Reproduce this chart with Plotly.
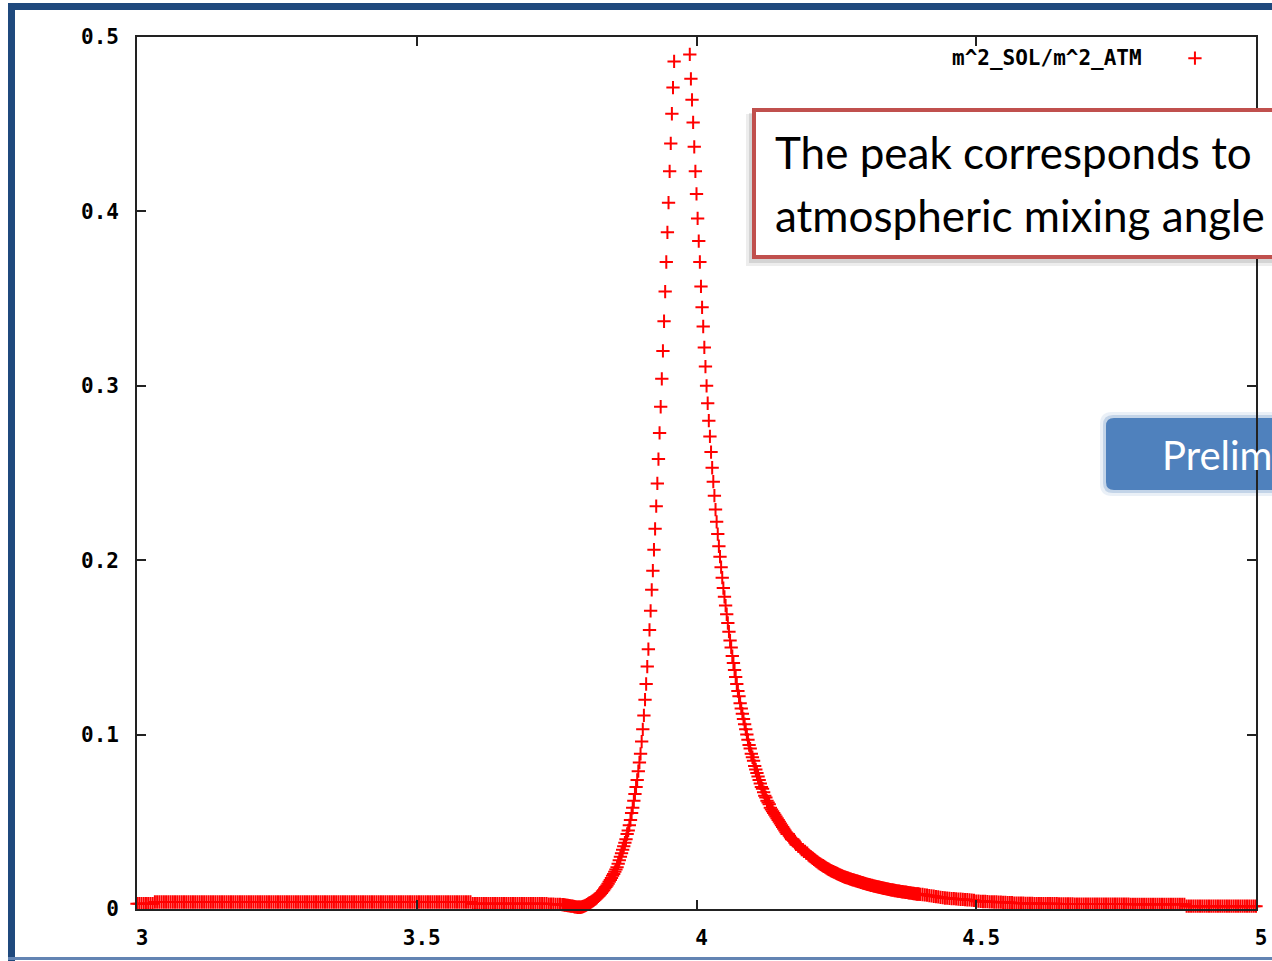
import plotly.graph_objects as go

# ---------------- data ----------------
# x grid: left tail 3.000..3.756 step 0.004, peak region 3.760..4.400 step 0.002,
# right tail 4.404..5.000 step 0.004
LEFT_TAIL_START, LEFT_TAIL_STEP = 3.000, 0.004
PEAK_START, PEAK_STEP = 3.760, 0.002
RIGHT_TAIL_START, RIGHT_TAIL_STEP = 4.404, 0.004

LEFT_TAIL_Y = [
    0.003, 0.003, 0.003, 0.003, 0.003, 0.003, 0.003, 0.003,
    0.004, 0.004, 0.004, 0.004, 0.004, 0.004, 0.004, 0.004, 0.004, 0.004,
    0.004, 0.004, 0.004, 0.004, 0.004, 0.004, 0.004, 0.004, 0.004, 0.004,
    0.004, 0.004, 0.004, 0.004, 0.004, 0.004, 0.004, 0.004, 0.004, 0.004,
    0.004, 0.004, 0.004, 0.004, 0.004, 0.004, 0.004, 0.004, 0.004, 0.004,
    0.004, 0.004, 0.004, 0.004, 0.004, 0.004, 0.004, 0.004, 0.004, 0.004,
    0.004, 0.004, 0.004, 0.004, 0.004, 0.004, 0.004, 0.004, 0.004, 0.004,
    0.004, 0.004, 0.004, 0.004, 0.004, 0.004, 0.004, 0.004, 0.004, 0.004,
    0.004, 0.004, 0.004, 0.004, 0.004, 0.004, 0.004, 0.004, 0.004, 0.004,
    0.004, 0.004, 0.004, 0.004, 0.004, 0.004, 0.004, 0.004, 0.004, 0.004,
    0.004, 0.004, 0.004, 0.004, 0.004, 0.004, 0.004, 0.004, 0.004, 0.004,
    0.004, 0.004, 0.004, 0.004, 0.004, 0.004, 0.004, 0.004, 0.004, 0.004,
    0.004, 0.004, 0.004, 0.004, 0.004, 0.004, 0.004, 0.004, 0.004, 0.004,
    0.004, 0.004, 0.004, 0.004, 0.004, 0.004, 0.004, 0.004, 0.004, 0.004,
    0.004, 0.004, 0.004, 0.004, 0.004, 0.004, 0.004, 0.004, 0.004, 0.004,
    0.004, 0.004,
    0.003, 0.003, 0.003, 0.003, 0.003, 0.003, 0.003, 0.003, 0.003, 0.003,
    0.003, 0.003, 0.003, 0.003, 0.003, 0.003, 0.003, 0.003, 0.003, 0.003,
    0.003, 0.003, 0.003, 0.003, 0.003, 0.003,
    0.003, 0.003, 0.003, 0.003, 0.003, 0.003, 0.003, 0.003,
    0.0028, 0.0028, 0.0028, 0.0026, 0.0026, 0.0026,
]

PEAK_Y = [
    0.0025, 0.0025, 0.0023, 0.0022, 0.0021, 0.002, 0.0019, 0.0018, 0.0017, 0.0016,
    0.0015, 0.0013, 0.0012, 0.0011, 0.001, 0.001, 0.001, 0.0011, 0.0013, 0.0015,
    0.0018, 0.0021, 0.0025, 0.0029, 0.0033, 0.0037, 0.0041, 0.0045, 0.005, 0.0055,
    0.006, 0.0066, 0.0072, 0.0078, 0.0085, 0.0092, 0.010, 0.0108, 0.0117, 0.0126,
    0.0135, 0.0145, 0.0156, 0.0167, 0.0178, 0.019, 0.020, 0.0213, 0.0226, 0.024,
    0.026, 0.028, 0.030, 0.032, 0.034, 0.036, 0.038, 0.040, 0.043, 0.045,
    0.048, 0.051, 0.055, 0.058, 0.062, 0.066, 0.070, 0.074, 0.079, 0.084,
    0.089, 0.096, 0.103, 0.111, 0.120, 0.129, 0.139, 0.149, 0.160, 0.171,
    0.183, 0.194, 0.206, 0.218, 0.231, 0.244, 0.258, 0.273, 0.288, 0.304,
    0.320, 0.337, 0.354, 0.371, 0.388, 0.405, 0.423, 0.439, 0.456, 0.471,
    0.486, 0.51, 0.53, 0.55, 0.57, 0.58, 0.59, 0.59, 0.58, 0.57,
    0.56, 0.54, 0.525, 0.51, 0.490, 0.476, 0.464, 0.451, 0.437, 0.423,
    0.410, 0.396, 0.383, 0.371, 0.357, 0.345, 0.334, 0.322, 0.311, 0.300,
    0.290, 0.280, 0.271, 0.262, 0.253, 0.245, 0.237, 0.229, 0.222, 0.215,
    0.208, 0.202, 0.196, 0.190, 0.184, 0.179, 0.174, 0.169, 0.164, 0.159,
    0.154, 0.150, 0.145, 0.141, 0.137, 0.133, 0.129, 0.125, 0.122, 0.118,
    0.115, 0.112, 0.109, 0.106, 0.103, 0.100, 0.097, 0.094, 0.092, 0.089,
    0.087, 0.085, 0.082, 0.080, 0.078, 0.076, 0.074, 0.072, 0.070, 0.069,
    0.067, 0.065, 0.064, 0.062, 0.061, 0.060, 0.058, 0.057, 0.056, 0.055,
    0.054, 0.053, 0.052, 0.051, 0.050, 0.049, 0.048, 0.047, 0.046, 0.045,
    0.044, 0.043, 0.043, 0.042, 0.041, 0.040, 0.040, 0.039, 0.038, 0.037,
    0.037, 0.036, 0.036, 0.035, 0.034, 0.034, 0.033, 0.033, 0.032, 0.032,
    0.031, 0.0305, 0.030, 0.0295, 0.029, 0.0285, 0.028, 0.0275, 0.027, 0.0265,
    0.026, 0.0256, 0.0252, 0.0248, 0.0244, 0.024, 0.0236, 0.0232, 0.0228, 0.0224,
    0.022, 0.0217, 0.0214, 0.0211, 0.0208, 0.0205, 0.0202, 0.0199, 0.0196, 0.0193,
    0.019, 0.0187, 0.0184, 0.0182, 0.018, 0.0178, 0.0176, 0.0173, 0.0171, 0.0169,
    0.0167, 0.0165, 0.0163, 0.0161, 0.0159, 0.0157, 0.0155, 0.0153, 0.0151, 0.0149,
    0.0147, 0.0145, 0.0143, 0.0141, 0.014, 0.0138, 0.0136, 0.0135, 0.0133, 0.0131,
    0.013, 0.0128, 0.0127, 0.0125, 0.0124, 0.0122, 0.0121, 0.0119, 0.0118, 0.0117,
    0.0115, 0.0114, 0.0113, 0.0111, 0.011, 0.0109, 0.0108, 0.0106, 0.0105, 0.0104,
    0.0103, 0.0102, 0.0101, 0.01, 0.0099, 0.0098, 0.0097, 0.0096, 0.0095, 0.0094,
    0.0093, 0.0092, 0.0091, 0.009, 0.0089, 0.0088, 0.0087, 0.0086, 0.0086, 0.0085,
    0.0084,
]

RIGHT_TAIL_Y = [
    0.0083, 0.0081, 0.0079, 0.0077, 0.0075, 0.0073, 0.0071, 0.0069, 0.0067, 0.0065,
    0.0063, 0.0062, 0.0061, 0.006, 0.0059, 0.0058, 0.0057, 0.0056, 0.0055, 0.0054,
    0.0053, 0.0052, 0.0051, 0.005,
    0.0045, 0.0045, 0.0044, 0.0043, 0.0043, 0.0042, 0.0041, 0.0041, 0.004, 0.004,
    0.0039, 0.0039, 0.0038, 0.0038, 0.0037, 0.0037, 0.0036,
    0.0034, 0.0034, 0.0033, 0.0033, 0.0033, 0.0032, 0.0032, 0.0032, 0.0032, 0.0031,
    0.0031, 0.0031, 0.0031, 0.003, 0.003, 0.003, 0.003, 0.003, 0.003, 0.003,
    0.0029, 0.0029, 0.0029, 0.0029, 0.0029, 0.0029, 0.0029,
    0.0028, 0.0028, 0.0028, 0.0028, 0.0028, 0.0028, 0.0028, 0.0028, 0.0028, 0.0028,
    0.0028, 0.0028, 0.0028, 0.0028, 0.0028, 0.0028, 0.0028, 0.0028, 0.0028, 0.0028,
    0.0028, 0.0028, 0.0028, 0.0028, 0.0028,
    0.0027, 0.0027, 0.0027, 0.0027, 0.0027, 0.0027, 0.0027, 0.0027, 0.0027, 0.0027,
    0.0027, 0.0027, 0.0027, 0.0027, 0.0027, 0.0027, 0.0027, 0.0027, 0.0027, 0.0027,
    0.0027, 0.0027, 0.0027, 0.0027, 0.0027,
    0.0016, 0.0016, 0.0016, 0.0016, 0.0016, 0.0016, 0.0016, 0.0016, 0.0016, 0.0016,
    0.0016, 0.0016, 0.0016, 0.0016, 0.0016, 0.0016, 0.0016, 0.0016, 0.0016, 0.0016,
    0.0016, 0.0016, 0.0016, 0.0016, 0.0016, 0.0016, 0.0016, 0.0016, 0.0016, 0.0016,
    0.0016, 0.0016,
]

X_TICKS = [3, 3.5, 4, 4.5, 5]
Y_TICKS = [0, 0.1, 0.2, 0.3, 0.4, 0.5]
SERIES_NAME = "m^2_SOL/m^2_ATM"
NOTE_LINES = ["The peak corresponds to", "atmospheric mixing angle"]
BADGE_TEXT = "Prelim"


def grid(start, step, n):
    return [round(start + step * i, 3) for i in range(n)]


x = (grid(LEFT_TAIL_START, LEFT_TAIL_STEP, len(LEFT_TAIL_Y))
     + grid(PEAK_START, PEAK_STEP, len(PEAK_Y))
     + grid(RIGHT_TAIL_START, RIGHT_TAIL_STEP, len(RIGHT_TAIL_Y)))
y = LEFT_TAIL_Y + PEAK_Y + RIGHT_TAIL_Y

# ---------------- layout geometry ----------------
W, H = 1272, 961
ML, MR, MT, MB = 137, 16, 37, 52
PW, PH = W - ML - MR, H - MT - MB


def px(v):
    return (v - ML) / PW


def py(v):
    return (H - MB - v) / PH


def rect(x0, y0, x1, y1, fill, line_color=None, line_width=0, layer="above"):
    return dict(type="rect", xref="paper", yref="paper",
                x0=px(x0), x1=px(x1), y0=py(y0), y1=py(y1),
                fillcolor=fill, layer=layer,
                line=dict(color=line_color or fill, width=line_width))


def rounded(x0, y0, x1, y1, r, fill, layer="below"):
    rx, ry = r / PW, r / PH
    X0, X1, Y0, Y1 = px(x0), px(x1), py(y1), py(y0)  # Y0 bottom, Y1 top
    path = (f"M{X0+rx},{Y0} L{X1},{Y0} L{X1},{Y1} L{X0+rx},{Y1} "
            f"Q{X0},{Y1} {X0},{Y1-ry} L{X0},{Y0+ry} Q{X0},{Y0} {X0+rx},{Y0} Z")
    return dict(type="path", xref="paper", yref="paper", path=path,
                fillcolor=fill, layer=layer, line=dict(width=0))


mono = dict(family="DejaVu Sans Mono", size=21, color="black", weight="bold")
mono_leg = dict(family="DejaVu Sans Mono", size=21, color="black", weight="bold")

fig = go.Figure()
fig.add_trace(go.Scatter(
    x=x, y=y, mode="markers", name=" ",
    marker=dict(symbol="cross-thin", size=9.5, color="red",
                line=dict(width=2, color="red")),
    cliponaxis=False, showlegend=True, hoverinfo="x+y",
))

axis_common = dict(
    showline=True, linecolor="#222222", linewidth=1.6, mirror="ticks",
    ticks="inside", ticklen=9, tickwidth=1.5, tickcolor="#222222",
    showgrid=False, zeroline=False, tickfont=mono, automargin=False,
)

fig.update_xaxes(range=[3, 5], tickvals=X_TICKS, ticklabelstandoff=9,
                 ticklabelshift=5, **axis_common)
fig.update_yaxes(range=[0, 0.5], tickvals=Y_TICKS, ticklabelstandoff=12,
                 **axis_common)

shapes = [
    # slide frame
    rect(8, 3, 1285, 10, "#1F497D"),
    rect(8, 3, 15, 965, "#1F497D"),
    rect(8, 957, 1285, 960, "#6384B3"),
    # note box with soft shadow
    rect(746, 114, 1300, 266, "rgba(0,0,0,0.07)"),
    rect(749, 113, 1300, 263, "rgba(0,0,0,0.10)"),
    rect(754, 110, 1300, 257, "white", "#C0504D", 4),
    # badge with soft glow
    rounded(1100, 412, 1300, 496, 12, "rgba(79,129,189,0.12)"),
    rounded(1103, 415, 1300, 493, 10, "rgba(79,129,189,0.25)"),
    rounded(1106, 418, 1300, 490, 8, "#4F81BD"),
]

annotations = [
    dict(text=NOTE_LINES[0], x=px(773), y=py(152), xref="paper", yref="paper",
         xanchor="left", yanchor="middle", showarrow=False,
         font=dict(family="Lato", size=44, color="black")),
    dict(text=NOTE_LINES[1], x=px(773), y=py(215), xref="paper", yref="paper",
         xanchor="left", yanchor="middle", showarrow=False,
         font=dict(family="Lato", size=44, color="black")),
    dict(text=BADGE_TEXT, x=px(1160), y=py(455), xref="paper", yref="paper",
         xanchor="left", yanchor="middle", showarrow=False,
         font=dict(family="Lato", size=40, color="white")),
]

fig.update_layout(
    width=W, height=H,
    margin=dict(l=ML, r=MR, t=MT, b=MB),
    paper_bgcolor="white", plot_bgcolor="white",
    showlegend=True,
    legend=dict(
        title=dict(text=SERIES_NAME + "\u00a0\u00a0", side="left", font=mono_leg),
        x=px(1233), y=py(38), xanchor="right", yanchor="top",
        bgcolor="rgba(0,0,0,0)", borderwidth=0, font=mono_leg,
    ),
    shapes=shapes,
    annotations=annotations,
)

fig.write_html("out.html")
